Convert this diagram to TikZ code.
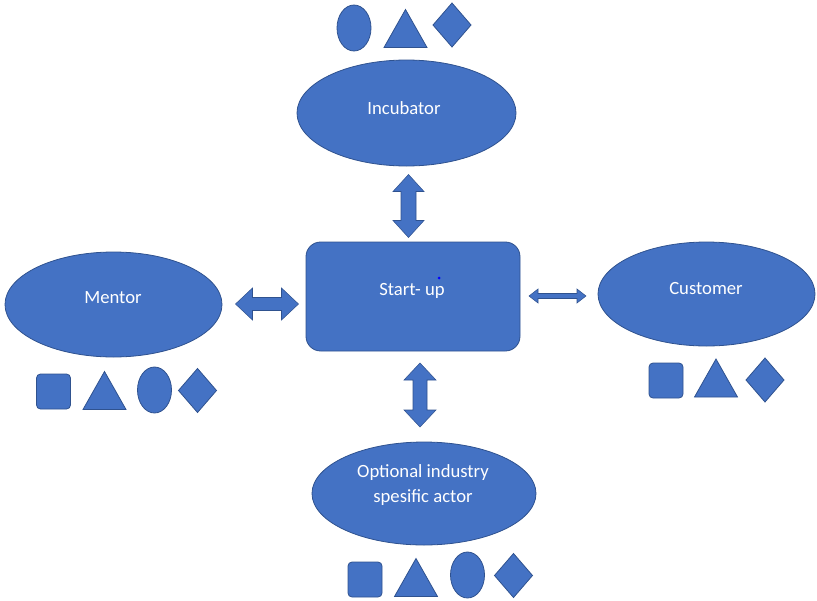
\documentclass[tikz,border=0pt]{standalone}
\usepackage{fontspec}
\setmainfont{Carlito}
\usetikzlibrary{shapes.geometric}
\definecolor{fillblue}{HTML}{4472C4}
\definecolor{edgeblue}{HTML}{2F528F}
\tikzset{
  shapefill/.style={fill=fillblue, draw=edgeblue, line width=0.6pt},
  labeltext/.style={text=white, font=\fontsize{14pt}{18.75pt}\selectfont, align=center, inner sep=0pt},
  actor/.style={shapefill, ellipse, inner sep=0pt},
  hub/.style={shapefill, rectangle, rounded corners=11pt, inner sep=0pt},
  % double-headed block arrow: half length, shaft half width, head half width, head length
  pics/dblarrow/.style n args={4}{code={
    \filldraw[shapefill, line width=0.4pt]
      (-#1,0) -- (-#1+#4,#3) -- (-#1+#4,#2) -- (#1-#4,#2) -- (#1-#4,#3) -- (#1,0)
      -- (#1-#4,-#3) -- (#1-#4,-#2) -- (-#1+#4,-#2) -- (-#1+#4,-#3) -- cycle;
  }},
  % small symbol shapes
  pics/sqsym/.style={code={\filldraw[shapefill, rounded corners=3pt] (-17,-17.5) rectangle (17,17.5);}},
  pics/trisym/.style={code={\filldraw[shapefill] (-21.5,19) -- (0,-19) -- (21.5,19) -- cycle;}},
  pics/ellsym/.style={code={\filldraw[shapefill] (0,0) ellipse [x radius=17, y radius=23];}},
  pics/diasym/.style={code={\filldraw[shapefill] (-19,0) -- (0,-22) -- (19,0) -- (0,22) -- cycle;}},
}
\begin{document}
\begin{tikzpicture}[x=0.75pt, y=-0.75pt]
\useasboundingbox (0,0) rectangle (817,600);

% actors around the start-up
\node[hub, minimum width=214*0.75pt, minimum height=109*0.75pt] (su) at (413,296.5) {};
\node[labeltext] (sulabel) at (412,291) {Start- up};
\fill[blue] (439,278) circle [radius=1.5];

\node[actor, minimum width=219*0.75pt, minimum height=106*0.75pt] (inc) at (406.5,113) {};
\node[labeltext] (inclabel) at (404,108) {Incubator};

\node[actor, minimum width=217*0.75pt, minimum height=105*0.75pt] (men) at (113.5,304.5) {};
\node[labeltext] (menlabel) at (113,298) {Mentor};

\node[actor, minimum width=217*0.75pt, minimum height=104*0.75pt] (cus) at (706.5,294) {};
\node[labeltext] (cuslabel) at (706,289) {Customer};

\node[actor, minimum width=224*0.75pt, minimum height=103*0.75pt] (opt) at (424,493.5) {};
\node[labeltext] (optlabel) at (423,485.5) {Optional industry\\spesific actor};

% links between the start-up and each actor
\coordinate (aTop) at (408.5,206);
\coordinate (aBot) at (420,395);
\coordinate (aLeft) at (267,304);
\coordinate (aRight) at (557.5,296);
\pic[rotate=90] at (aTop) {dblarrow={31.5}{7.5}{15.5}{17}};
\pic[rotate=90] at (aBot) {dblarrow={32}{7}{16}{17}};
\pic at (aLeft) {dblarrow={31.5}{6.5}{16}{17}};
\pic at (aRight) {dblarrow={28.5}{2.5}{7}{9}};

% symbol rows
\pic at (354,28) {ellsym};
\pic at (405.5,28.5) {trisym};
\pic at (452,25) {diasym};

\pic at (53.5,391.5) {sqsym};
\pic at (104.5,390.5) {trisym};
\pic at (154.5,390) {ellsym};
\pic at (197.5,390.5) {diasym};

\pic at (666,380.5) {sqsym};
\pic at (716,378) {trisym};
\pic at (765,380) {diasym};

\pic at (365,579.5) {sqsym};
\pic at (416,577.5) {trisym};
\pic at (467.5,575) {ellsym};
\pic at (513.5,575.5) {diasym};
\end{tikzpicture}
\end{document}
